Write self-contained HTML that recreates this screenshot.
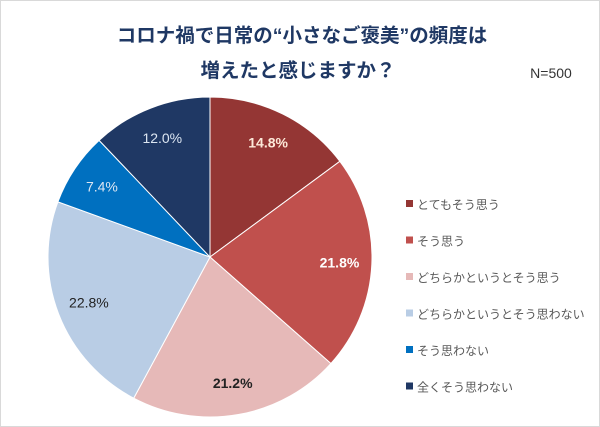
<!DOCTYPE html>
<html><head><meta charset="utf-8"><style>
body{margin:0;background:#fff;}
svg{display:block;font-family:"Liberation Sans","Noto Sans CJK JP",sans-serif;}
</style></head><body>
<svg id="chart" width="600" height="427" viewBox="0 0 600 427">
<rect x="0.5" y="0.5" width="599" height="426" fill="#fff" stroke="#d9d9d9"/>
<text x="302" y="42" text-anchor="middle" font-size="19.5" font-weight="bold" fill="#1f3864">コロナ禍で日常の“小さなご褒美”の頻度は</text>
<text x="298" y="77" text-anchor="middle" font-size="19.5" font-weight="bold" fill="#1f3864">増えたと感じますか？</text>
<text x="551" y="78" text-anchor="middle" font-size="14" fill="#333">N=500</text>
<g id="slices"></g><g id="labels"></g><g id="legend"></g>
</svg>
<script>
const categories=["とてもそう思う","そう思う","どちらかというとそう思う","どちらかというとそう思わない","そう思わない","全くそう思わない"];
const values=[14.8,21.8,21.2,22.8,7.4,12.0];
const colors=["#943634","#c0504d","#e6b9b8","#b9cde5","#0070c0","#1f3864"];
const labelColors=["#fde9d9","#fff","#222","#222","#dce6f2","#dce6f2"];
const labelWeights=["bold","bold","bold","normal","normal","normal"];
const ns="http://www.w3.org/2000/svg";
const cx=210,cy=257,rx=162,ry=160;
const total=values.reduce((a,b)=>a+b,0);
const sg=document.getElementById('slices'),lg=document.getElementById('labels'),leg=document.getElementById('legend');
let acc=0;
values.forEach((v,i)=>{
  const a0=acc/total*2*Math.PI; acc+=v; const a1=acc/total*2*Math.PI;
  const p=(a)=>[cx+rx*Math.sin(a),cy-ry*Math.cos(a)];
  const [x0,y0]=p(a0),[x1,y1]=p(a1);
  const path=document.createElementNS(ns,'path');
  path.setAttribute('d',`M${cx},${cy}L${x0},${y0}A${rx},${ry} 0 ${a1-a0>Math.PI?1:0} 1 ${x1},${y1}Z`);
  path.setAttribute('fill',colors[i]);
  path.setAttribute('stroke','#fff');path.setAttribute('stroke-width','1');
  
  
  sg.appendChild(path);
  const am=(a0+a1)/2;
  const t=document.createElementNS(ns,'text');
  t.setAttribute('x',cx+rx*0.8*Math.sin(am));
  t.setAttribute('y',cy-ry*0.8*Math.cos(am)+5);
  t.setAttribute('text-anchor','middle');t.setAttribute('font-size','14');
  t.setAttribute('font-weight',labelWeights[i]);t.setAttribute('fill',labelColors[i]);
  t.textContent=v.toFixed(1)+'%';
  
  
  lg.appendChild(t);
  const y=204+i*36.5;
  const r=document.createElementNS(ns,'rect');
  r.setAttribute('x',406);r.setAttribute('y',y-4);r.setAttribute('width',7);r.setAttribute('height',7);
  r.setAttribute('fill',colors[i]);
  
  
  leg.appendChild(r);
  const lt=document.createElementNS(ns,'text');
  lt.setAttribute('x',417);lt.setAttribute('y',y+5);lt.setAttribute('font-size','12');lt.setAttribute('fill','#595959');
  lt.textContent=categories[i];
  
  
  leg.appendChild(lt);
});
</script>
</body></html>
